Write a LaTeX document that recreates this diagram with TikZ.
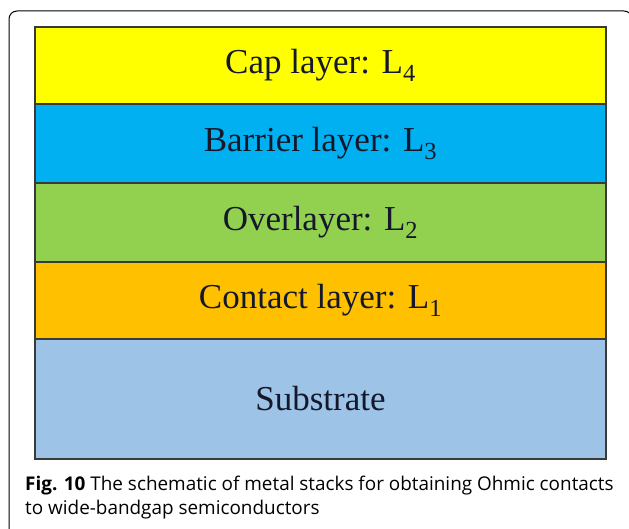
\documentclass[tikz,border=0pt]{standalone}
\usepackage{fontspec}
\setmainfont{Liberation Serif}
\newfontfamily\captionfont{Open Sans}
\usepackage[x11names]{xcolor}
\usetikzlibrary{positioning}

\definecolor{capyellow}{HTML}{FFFF00}
\definecolor{barrierblue}{HTML}{00B0F0}
\definecolor{overgreen}{HTML}{92D050}
\definecolor{contactorange}{HTML}{FFC000}
\definecolor{substrateblue}{HTML}{9DC3E6}
\definecolor{layeredge}{HTML}{3A3A3A}
\definecolor{layertext}{HTML}{14182A}

\begin{document}
\begin{tikzpicture}
                        [x=1pt, y=-1pt,
                         layer/.style={draw=layeredge, line width=1.3pt, minimum width=571pt,
                                       inner sep=0pt, outer sep=0pt, text=layertext,
                                       font=\fontsize{35}{40}\selectfont},
                         figcaption/.style={anchor=base west, inner sep=0pt, align=left,
                                       font=\captionfont\fontsize{18.9}{24}\selectfont}]

                        \useasboundingbox (0,0) rectangle (629,529);
                        \clip (0,0) rectangle (629,529);
                        \draw[line width=1pt, rounded corners=8pt] (9,11) rectangle (632,536); % Frame

                        \node[layer, fill=capyellow, minimum height=77pt, anchor=north west] (cap) at (35,27) {Cap layer: L\textsubscript{4}};
                        \node[layer, fill=barrierblue, minimum height=79pt, below=0pt of cap] (barrier) {Barrier layer: L\textsubscript{3}};
                        \node[layer, fill=overgreen, minimum height=79pt, below=0pt of barrier] (over) {Overlayer: L\textsubscript{2}};
                        \node[layer, fill=contactorange, minimum height=77pt, below=0pt of over] (contact) {Contact layer: L\textsubscript{1}};
                        \node[layer, fill=substrateblue, minimum height=120pt, below=0pt of contact] (substrate) {Substrate};

                        \node[figcaption] (caption) at (25,514)
                            {\textbf{Fig. 10} The schematic of metal stacks for obtaining Ohmic contacts\\
                             to wide-bandgap semiconductors};
                    \end{tikzpicture}
\end{document}
